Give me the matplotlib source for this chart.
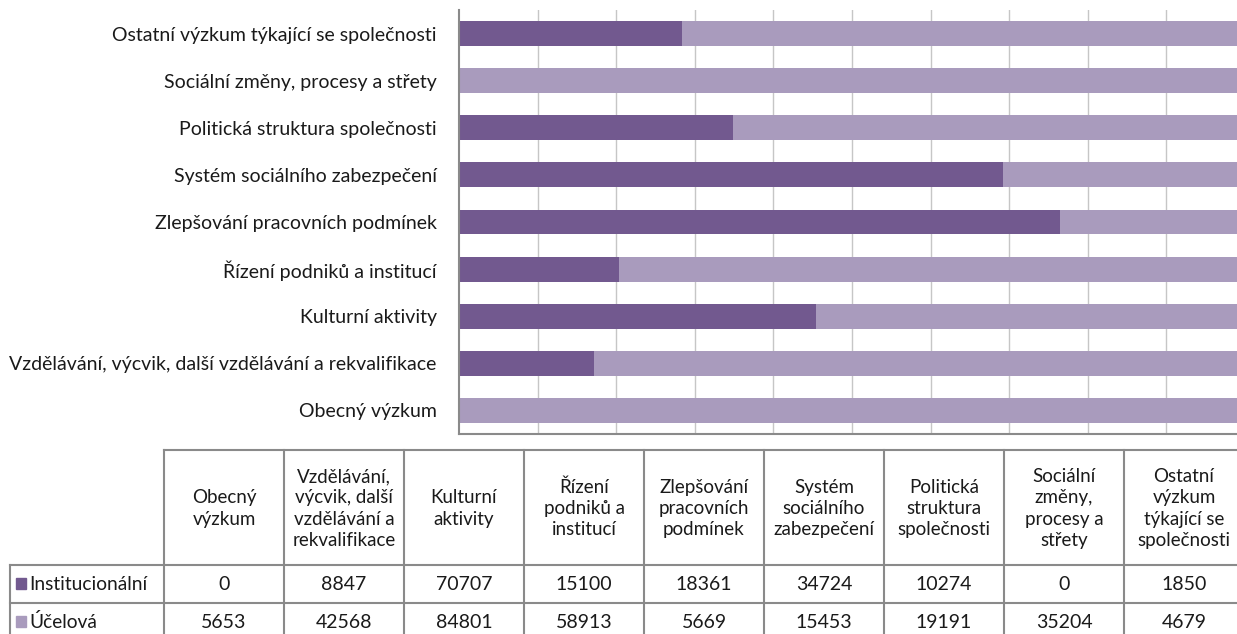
import matplotlib.pyplot as plt
from matplotlib.patches import Rectangle

plt.rcParams['font.family'] = ['Lato', 'DejaVu Sans']

# data (order from bottom to top of the bar chart / left to right in the table)
categories = [
    "Obecný výzkum",
    "Vzdělávání, výcvik, další vzdělávání a rekvalifikace",
    "Kulturní aktivity",
    "Řízení podniků a institucí",
    "Zlepšování pracovních podmínek",
    "Systém sociálního zabezpečení",
    "Politická struktura společnosti",
    "Sociální změny, procesy a střety",
    "Ostatní výzkum týkající se společnosti",
]
table_headers = [
    "Obecný\nvýzkum",
    "Vzdělávání,\nvýcvik, další\nvzdělávání a\nrekvalifikace",
    "Kulturní\naktivity",
    "Řízení\npodniků a\ninstitucí",
    "Zlepšování\npracovních\npodmínek",
    "Systém\nsociálního\nzabezpečení",
    "Politická\nstruktura\nspolečnosti",
    "Sociální\nzměny,\nprocesy a\nstřety",
    "Ostatní\nvýzkum\ntýkající se\nspolečnosti",
]
series_names = ["Institucionální", "Účelová"]
institucionalni = [0, 8847, 70707, 15100, 18361, 34724, 10274, 0, 1850]
ucelova = [5653, 42568, 84801, 58913, 5669, 15453, 19191, 35204, 4679]

colors = ["#72598f", "#a99bbd"]
grid_col = "#c6c6c6"
line_col = "#8a8a8a"
txt_col = "#1a1a1a"

W, H = 1237, 634
fig = plt.figure(figsize=(W / 100, H / 100), dpi=100)

# --- 100% stacked bars ---
ax_l, ax_r, ax_t, ax_b = 459, 1245, 10, 434
ax = fig.add_axes([ax_l / W, 1 - ax_b / H, (ax_r - ax_l) / W, (ax_b - ax_t) / H])

tot = [a + b for a, b in zip(institucionalni, ucelova)]
p1 = [a / t for a, t in zip(institucionalni, tot)]
p2 = [b / t for b, t in zip(ucelova, tot)]
y = list(range(len(categories)))
ax.barh(y, p1, height=0.53, color=colors[0], zorder=2)
ax.barh(y, p2, left=p1, height=0.53, color=colors[1], zorder=2)

ax.set_xlim(0, 1)
ax.set_ylim(-0.5, len(categories) - 0.5)
ax.set_xticks([i / 10 for i in range(1, 11)])
ax.set_xticklabels([])
ax.grid(axis='x', color=grid_col, lw=1, zorder=0)
ax.set_yticks(y)
ax.set_yticklabels(categories, fontsize=14, color=txt_col)
ax.tick_params(axis='y', length=0, pad=16)
ax.tick_params(axis='x', length=0)
for s in ["top", "right"]:
    ax.spines[s].set_visible(False)
for s in ["left", "bottom"]:
    ax.spines[s].set_color(line_col)
    ax.spines[s].set_linewidth(1.5)

# --- data table drawn below ---
tab = fig.add_axes([0, 0, 1, 1], zorder=5)
tab.set_xlim(0, W)
tab.set_ylim(H, 0)
tab.axis("off")

col_x0, col_w = 164, 120
lab_x0 = 10
hdr_top, hdr_bot = 450, 565
row_h = 38
ncol = len(table_headers)
right = col_x0 + ncol * col_w
bottom = hdr_bot + 2 * row_h
lk = dict(color=line_col, lw=1.5, solid_capstyle="projecting")

# horizontal lines
tab.plot([col_x0, right], [hdr_top, hdr_top], **lk)
for yy in [hdr_bot, hdr_bot + row_h, bottom]:
    tab.plot([lab_x0, right], [yy, yy], **lk)
# vertical lines
tab.plot([lab_x0, lab_x0], [hdr_bot, bottom], **lk)
for i in range(ncol + 1):
    xx = col_x0 + i * col_w
    tab.plot([xx, xx], [hdr_top, bottom], **lk)

# header texts
for i, h in enumerate(table_headers):
    tab.text(col_x0 + (i + 0.5) * col_w, (hdr_top + hdr_bot) / 2 + 1, h,
             ha="center", va="center", fontsize=13.5, color=txt_col,
             linespacing=1.3)

# rows
for r, (name, vals) in enumerate(zip(series_names, [institucionalni, ucelova])):
    yc = hdr_bot + (r + 0.5) * row_h
    tab.add_patch(Rectangle((16, yc - 6), 10, 11, color=colors[r]))
    tab.text(29, yc, name, ha="left", va="center", fontsize=13.8, color=txt_col)
    for i, v in enumerate(vals):
        tab.text(col_x0 + (i + 0.5) * col_w, yc + 1, str(v),
                 ha="center", va="center", fontsize=14, color=txt_col)

fig.savefig("out.png", dpi=100)
